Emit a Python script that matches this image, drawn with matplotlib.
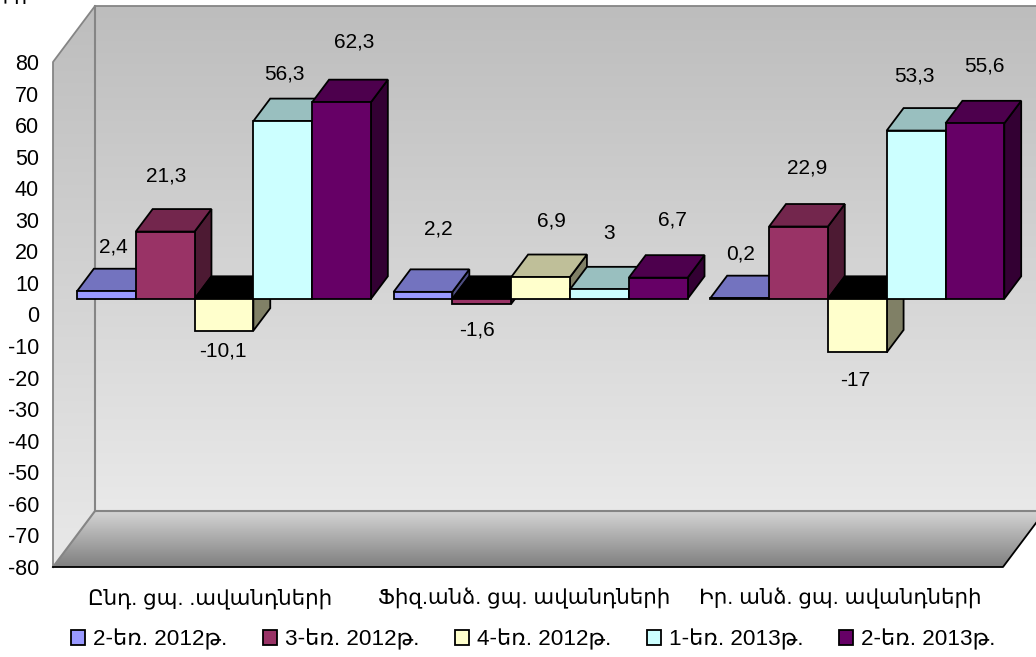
import numpy as np
import matplotlib
matplotlib.use('Agg')
import matplotlib.pyplot as plt
from matplotlib.colors import to_rgb
from matplotlib.patches import Patch, Polygon

plt.rcParams['font.family'] = ['Liberation Sans', 'DejaVu Sans']
plt.rcParams['axes.unicode_minus'] = False

# data
categories = ['Ընդ. ցպ. .ավանդների', 'Ֆիզ.անձ. ցպ. ավանդների', 'Իր. անձ. ցպ. ավանդների']
series_names = ['2-եռ. 2012թ.', '3-եռ. 2012թ.', '4-եռ. 2012թ.', '1-եռ. 2013թ.', '2-եռ. 2013թ.']
q2_2012 = [2.4, 2.2, 0.2]
q3_2012 = [21.3, -1.6, 22.9]
q4_2012 = [-10.1, 6.9, -17]
q1_2013 = [56.3, 3, 53.3]
q2_2013 = [62.3, 6.7, 55.6]
series = [q2_2012, q3_2012, q4_2012, q1_2013, q2_2013]
y_ticks = list(range(-80, 90, 10))

# styles
colors = ['#9999ff', '#993366', '#ffffcc', '#ccffff', '#660066']

# label offsets in pixels from the end of each bar, by series then category
label_dx = [[7, 15, 1], [1, -5, 9], [-1, 11, -2], [2, 10, -2], [13, 14, 9]]
label_dy = [[44, 63, 44], [56, -26, 59], [-20, 56, -28], [47, 56, 55], [60, 58, 57]]

W, H = 1036, 657
L, R, T, B = 53, 1003, 62, 567
px_x = 3.0 / (R - L)
px_y = 160.0 / (B - T)
wall_dx = 42 * px_x
wall_dy = 56 * px_y
plane = 15.7 / 56      # where the bars stand between front and back
depth = 22.5 / 56
bar_w = 58.8 * px_x
gap = 12.2 * px_x


def shade(c, f):
    return tuple(v * f for v in to_rgb(c))


def gradient(ax, poly, top, bottom, ylims):
    ramp = np.linspace(0, 1, 256)[:, None, None]
    cols = np.array(to_rgb(top)) * (1 - ramp) + np.array(to_rgb(bottom)) * ramp
    im = ax.imshow(cols, extent=[-1, 5, ylims[0], ylims[1]], origin='upper', aspect='auto',
                   zorder=1, interpolation='bilinear')
    p = Polygon(poly, closed=True, transform=ax.transData, fill=False, edgecolor='none', clip_on=False)
    ax.add_patch(p)
    im.set_clip_box(fig.bbox)
    im.set_clip_path(p)


fig = plt.figure(figsize=(W / 100, H / 100), dpi=100)
ax = fig.add_axes([L / W, 1 - B / H, (R - L) / W, (B - T) / H])
ax.patch.set_visible(False)

back = [(wall_dx, -80 + wall_dy), (wall_dx, 80 + wall_dy), (3 + wall_dx, 80 + wall_dy), (3 + wall_dx, -80 + wall_dy)]
left = [(0, -80), (0, 80), (wall_dx, 80 + wall_dy), (wall_dx, -80 + wall_dy)]
floor = [(0, -80), (3, -80), (3 + wall_dx, -80 + wall_dy), (wall_dx, -80 + wall_dy)]
gradient(ax, back, '#bdbdbd', '#e9e9e9', (-80 + wall_dy, 80 + wall_dy))
gradient(ax, left, '#bdbdbd', '#e9e9e9', (-80, 80 + wall_dy))
gradient(ax, floor, '#d4d4d4', '#7f7f7f', (-80, -80 + wall_dy))

gray = '#858585'
ax.plot([0, 0, wall_dx, 4], [-80, 80, 80 + wall_dy, 80 + wall_dy], color=gray, lw=1.3, zorder=2, clip_on=False)
ax.plot([wall_dx, wall_dx], [80 + wall_dy, -80 + wall_dy], color=gray, lw=1.5, zorder=2, clip_on=False)
ax.plot([0, wall_dx, 4], [-80, -80 + wall_dy, -80 + wall_dy], color=gray, lw=1.5, zorder=2, clip_on=False)
ax.plot([0, 3, 3 + wall_dx], [-80, -80, -80 + wall_dy], color='black', lw=1.3, zorder=3, clip_on=False)

# bars go left to right so each one hides the side of the one before
z = 4
zero = plane * wall_dy
shift = plane * wall_dx
ddx, ddy = depth * wall_dx, depth * wall_dy
for c in range(len(categories)):
    for s, vals in enumerate(series):
        v = vals[c]
        x0 = c + shift + gap + s * bar_w
        x1 = x0 + bar_w
        y0 = zero
        y1 = zero + v
        col = colors[s]
        hi = max(y0, y1)
        lo = min(y0, y1)
        top_col = 'black' if v < 0 else shade(col, 0.75)
        faces = [
            ([(x1, lo), (x1 + ddx, lo + ddy), (x1 + ddx, hi + ddy), (x1, hi)], shade(col, 0.5)),
            ([(x0, hi), (x1, hi), (x1 + ddx, hi + ddy), (x0 + ddx, hi + ddy)], top_col),
            ([(x0, lo), (x1, lo), (x1, hi), (x0, hi)], col),
        ]
        for pts, fc in faces:
            ax.add_patch(Polygon(pts, closed=True, facecolor=fc, edgecolor='black', lw=1.3,
                                 joinstyle='miter', zorder=z, clip_on=False))
            z += 1
        ax.annotate(str(v).replace('.', ','), ((x0 + x1) / 2, y1),
                    xytext=(label_dx[s][c], label_dy[s][c]), textcoords='offset pixels',
                    ha='center', va='center', fontsize=15, color='black', zorder=100)

ax.set_xlim(0, 3)
ax.set_ylim(-80, 80)
for sp in ax.spines.values():
    sp.set_visible(False)
ax.set_yticks(y_ticks)
ax.tick_params(axis='y', length=0, pad=10, labelsize=15.5)
ax.set_xticks([0.497, 1.489, 2.487])
ax.set_xticklabels(categories, fontsize=15.4)
ax.tick_params(axis='x', length=0, pad=15)

handles = [Patch(facecolor=c, edgecolor='black', lw=1.3) for c in colors]
fig.legend(handles, series_names, loc='center', bbox_to_anchor=(533 / W, 1 - 640 / H), ncol=5,
           frameon=False, fontsize=16.2, handlelength=0.62, handleheight=0.62,
           handletextpad=0.36, columnspacing=1.58, borderpad=0)

# clipped title remnant at the top edge of the picture
fig.text(-5 / W, 1 - 4 / H, 'ր ո', fontsize=15, ha='left', va='baseline')

fig.savefig('out.png', dpi=100)
